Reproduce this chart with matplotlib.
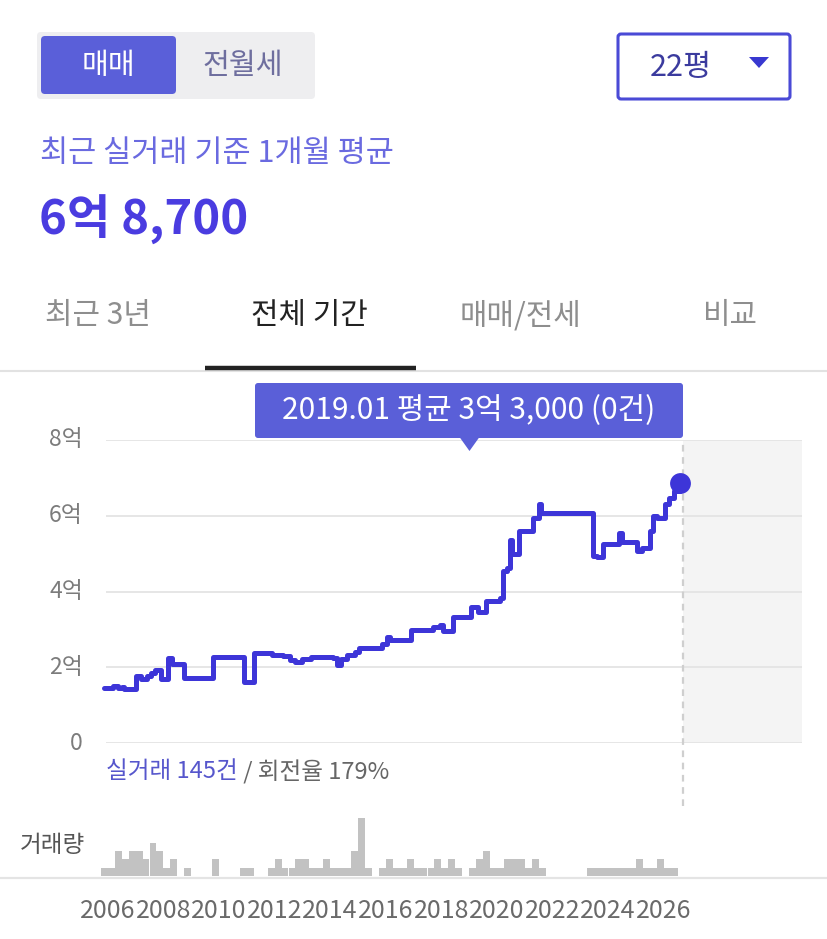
import matplotlib
matplotlib.use('Agg')
import matplotlib.pyplot as plt
from matplotlib.patches import FancyBboxPatch, Polygon
import numpy as np

plt.rcParams['font.family'] = ['Noto Sans CJK KR', 'DejaVu Sans']

W, H = 827, 939

# price (억 원), step changes by year
price_years = [2005.85, 2006.2, 2006.35, 2006.5, 2006.6, 2007.03, 2007.2, 2007.4, 2007.55,
               2007.7, 2007.9, 2008.15, 2008.3, 2008.75, 2009.8, 2010.9, 2011.25, 2011.9,
               2012.3, 2012.55, 2012.75, 2013.0, 2013.3, 2014.1, 2014.25, 2014.4, 2014.6,
               2014.9, 2015.05, 2015.85, 2016.04, 2016.15, 2016.9, 2017.7, 2017.95, 2018.05,
               2018.4, 2019.08, 2019.3, 2019.6, 2020.1, 2020.2, 2020.35, 2020.45, 2020.55,
               2020.8, 2021.3, 2021.5, 2021.6, 2023.47, 2023.6, 2023.8, 2024.4, 2024.5,
               2025.05, 2025.2, 2025.5, 2025.62, 2025.75, 2026.05, 2026.2, 2026.35, 2026.58]
price_vals = [1.45, 1.50, 1.45, 1.48, 1.43, 1.78, 1.70, 1.78, 1.86,
              1.94, 1.70, 2.24, 2.08, 1.71, 2.26, 1.60, 2.37, 2.32,
              2.30, 2.20, 2.14, 2.22, 2.26, 2.24, 2.05, 2.22, 2.32,
              2.40, 2.50, 2.62, 2.80, 2.71, 2.98, 3.05, 3.12, 2.97,
              3.32, 3.58, 3.45, 3.76, 3.82, 4.55, 4.62, 5.36, 5.00,
              5.60, 5.95, 6.30, 6.08, 4.95, 4.90, 5.25, 5.55, 5.30,
              5.08, 5.15, 5.60, 6.00, 5.95, 6.30, 6.47, 6.65, 6.87]

# 거래량, quarterly counts from 2005.75
vol_start = 2005.75
vol_counts = [1, 1, 3, 2, 3, 3, 2, 4, 3, 1, 2, 0, 1, 0, 0, 0, 2, 0, 0, 0, 1, 1,
              0, 0, 1, 2, 1, 1, 2, 2, 1, 1, 2, 1, 1, 1, 3, 7, 1, 0, 1, 2, 1, 1,
              2, 1, 1, 1, 2, 1, 2, 1, 0, 1, 2, 3, 1, 1, 2, 2, 2, 1, 2, 1, 0, 0,
              0, 0, 0, 0, 1, 1, 1, 1, 1, 1, 1, 2, 1, 1, 2, 1, 1]
vol_years = vol_start + 0.25 * np.arange(len(vol_counts))

year_ticks = list(range(2006, 2027, 2))
y_ticks = [0, 2, 4, 6, 8]
y_labels = ['0', '2억', '4억', '6억', '8억']

tabs = ['최근 3년', '전체 기간', '매매/전세', '비교']
tab_x = [98, 309, 520, 730]

# year -> pixel mapping used for both chart axes
PX0, PPY = 107.8, 27.8
def ypx(yr):
    return PX0 + (yr - 2006) * PPY

X0 = 2006 + (100 - PX0) / PPY
X1 = 2006 + (802 - PX0) / PPY
shade_from = 2026.68
LINE = '#3d35d8'


def rect(l, t, r, b):
    return [l / W, 1 - b / H, (r - l) / W, (b - t) / H]


def overlay(z):
    a = fig.add_axes([0, 0, 1, 1], zorder=z)
    a.set_xlim(0, W)
    a.set_ylim(H, 0)
    a.axis('off')
    a.patch.set_alpha(0)
    return a


fig = plt.figure(figsize=(W / 100, H / 100), dpi=100)

# main price chart
ax = fig.add_axes(rect(100, 440, 802, 743), zorder=6)
ax.set_xlim(X0, X1)
ax.set_ylim(0, 8)
ax.axis('off')
ax.patch.set_alpha(0)
ax.axvspan(shade_from, X1, color='#f4f4f4', zorder=0, lw=0)
grid_x0 = 2006 + (106 - PX0) / PPY
ax.hlines(y_ticks, grid_x0, X1, colors='#e4e4e4', lw=1.3, zorder=1)
# dashed "now" marker runs down to the volume panel
ax.vlines(shade_from, -(806 - 743) / 37.9, 8, colors='#cfcfcf', lw=1.6,
          linestyles=(0, (3, 2.5)), zorder=2, clip_on=False)
ax.plot(price_years, price_vals, drawstyle='steps-post', color=LINE, lw=3.6,
        solid_joinstyle='round', solid_capstyle='round', zorder=3, clip_on=False)
ax.plot(price_years[-1], price_vals[-1], 'o', color=LINE, ms=15, mew=0, zorder=4, clip_on=False)

# volume bars
axv = fig.add_axes(rect(100, 806, 802, 876))
axv.set_xlim(X0, X1)
axv.set_ylim(0, 70 / 8.3)
axv.bar(vol_years, vol_counts, width=0.25, align='edge', color='#c2c2c2', lw=0)
for s in axv.spines.values():
    s.set_visible(False)
axv.set_yticks([])
axv.set_xticks(year_ticks)
axv.set_xticklabels([str(y) for y in year_ticks], fontsize=18, color='#6a6a6a')
axv.tick_params(axis='x', length=0, pad=16)

# overlay for the surrounding UI
ui = overlay(5)

# toggle 매매 / 전월세
ui.add_patch(FancyBboxPatch((37, 32), 278, 67, boxstyle='round,pad=0,rounding_size=4',
                            fc='#eeeef0', ec='none'))
ui.add_patch(FancyBboxPatch((41, 36), 135, 58, boxstyle='round,pad=0,rounding_size=4',
                            fc='#5a5fd9', ec='none'))
ui.text(108, 66, '매매', color='white', fontsize=21, ha='center', va='center')
ui.text(243, 66, '전월세', color='#6e6e9e', fontsize=21, ha='center', va='center')

# size dropdown
ui.add_patch(FancyBboxPatch((618, 34), 172, 65, boxstyle='round,pad=0,rounding_size=3',
                            fc='white', ec='#4a4ad6', lw=2.2))
ui.text(681, 68, '22평', color='#3b3b9e', fontsize=22, ha='center', va='center')
ui.add_patch(Polygon([(749, 57), (769, 57), (759, 68)], closed=True, fc='#3838d0', ec='none'))

ui.text(40, 153, '최근 실거래 기준 1개월 평균', color='#6a6ae0', fontsize=22, ha='left', va='center')
ui.text(39, 220, '6억 8,700', color='#4a3ce0', fontsize=34, fontweight='bold', ha='left', va='center')

# tabs
for name, tx in zip(tabs, tab_x):
    active = name == '전체 기간'
    ui.text(tx, 316, name, fontsize=21.5, ha='center', va='center',
            color='#222222' if active else '#8e8e8e')
ui.plot([0, W], [371, 371], color='#e2e2e2', lw=1.5)
ui.plot([205, 416], [367.5, 367.5], color='#222222', lw=3.2, solid_capstyle='butt')

# y labels
for v, lab in zip(y_ticks, y_labels):
    ui.text(83, 743 - v * 37.9, lab, color='#7c7c7c', fontsize=16.5, ha='right', va='center')

# stats line
t1 = ui.text(106, 772, '실거래 145건', color='#5656cc', fontsize=17, ha='left', va='center')
ui.annotate(' / 회전율 179%', xy=(1, 0.5), xycoords=t1, color='#666666', fontsize=17,
            ha='left', va='center')

ui.text(20, 845, '거래량', color='#555555', fontsize=17, ha='left', va='center')

# volume baseline
ui.plot([0, W], [877.5, 877.5], color='#e4e4e4', lw=1.6)

# tooltip sits above the chart
tip = overlay(7)
tip_x = ypx(2019.01)
tip.add_patch(FancyBboxPatch((255, 383), 428, 55, boxstyle='round,pad=0,rounding_size=3',
                             fc='#5a5fd8', ec='none'))
tip.add_patch(Polygon([(tip_x - 10, 437), (tip_x + 10, 437), (tip_x, 451)], closed=True,
                      fc='#5a5fd8', ec='none'))
tip.text(469, 411, '2019.01 평균 3억 3,000 (0건)', color='white', fontsize=21.5,
         ha='center', va='center')

fig.savefig('out.png', dpi=100)
